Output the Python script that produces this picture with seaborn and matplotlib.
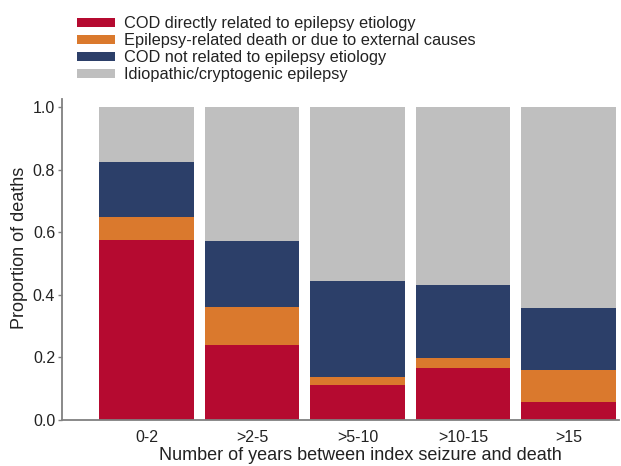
import numpy as np
import pandas as pd
import matplotlib
matplotlib.use('Agg')
import matplotlib.pyplot as plt
import seaborn as sns
from matplotlib.patches import Patch

categories = ['0-2', '>2-5', '>5-10', '>10-15', '>15']
direct = [0.575, 0.240, 0.110, 0.165, 0.058]
external = [0.074, 0.121, 0.027, 0.033, 0.101]
not_related = [0.175, 0.213, 0.306, 0.234, 0.200]
idiopathic = [0.176, 0.426, 0.557, 0.568, 0.641]

labels = ['COD directly related to epilepsy etiology',
          'Epilepsy-related death or due to external causes',
          'COD not related to epilepsy etiology',
          'Idiopathic/cryptogenic epilepsy']
colors = ['#b50a30', '#da792d', '#2c3f69', '#bfbfbf']

sns.set_theme(style='white')
plt.rcParams['font.family'] = ['Liberation Sans', 'DejaVu Sans']

df = pd.DataFrame({'cat': categories, 'direct': direct, 'external': external,
                   'not_related': not_related, 'idiopathic': idiopathic})
df['c1'] = df['direct']
df['c2'] = df['c1'] + df['external']
df['c3'] = df['c2'] + df['not_related']
df['c4'] = df['c3'] + df['idiopathic']

fig = plt.figure(figsize=(6.21, 4.66), dpi=100)
ax = fig.add_axes([0.100, 0.099, 0.897, 0.688])

# stacked: draw cumulative totals from top down
for col, color in zip(['c4', 'c3', 'c2', 'c1'], colors[::-1]):
    sns.barplot(data=df, x='cat', y=col, color=color, width=0.9,
                saturation=1, ax=ax, linewidth=0)

ax.set_ylim(0, 1.026)
ax.set_xlim(-0.8, 4.48)
ax.set_yticks([0, 0.2, 0.4, 0.6, 0.8, 1.0])
ax.set_yticklabels(['0.0', '0.2', '0.4', '0.6', '0.8', '1.0'])
ax.set_xlabel('Number of years between index seizure and death', fontsize=13, color='#222222', labelpad=2)
ax.xaxis.set_label_coords(0.535, -0.085)
ax.set_ylabel('Proportion of deaths', fontsize=13, color='#222222')
ax.yaxis.set_label_coords(-0.061, 0.536)
ax.tick_params(axis='y', left=True, length=3, width=1, color='#808080', labelsize=11.5, labelcolor='#222222', pad=2)
ax.tick_params(axis='x', bottom=False, labelsize=11.5, labelcolor='#222222', pad=1)
for s in ['top', 'right']:
    ax.spines[s].set_visible(False)
for s in ['left', 'bottom']:
    ax.spines[s].set_color('#808080')
    ax.spines[s].set_linewidth(1.3)

handles = [Patch(facecolor=c, edgecolor='none', label=l) for c, l in zip(colors, labels)]
fig.legend(handles=handles, loc='upper left', bbox_to_anchor=(0.106, 0.99),
           frameon=False, fontsize=11.8, handlelength=2.3, handleheight=0.5,
           handletextpad=0.55, labelspacing=0.12, borderpad=0.2, labelcolor='#222222')

fig.savefig('out.png', dpi=100)
